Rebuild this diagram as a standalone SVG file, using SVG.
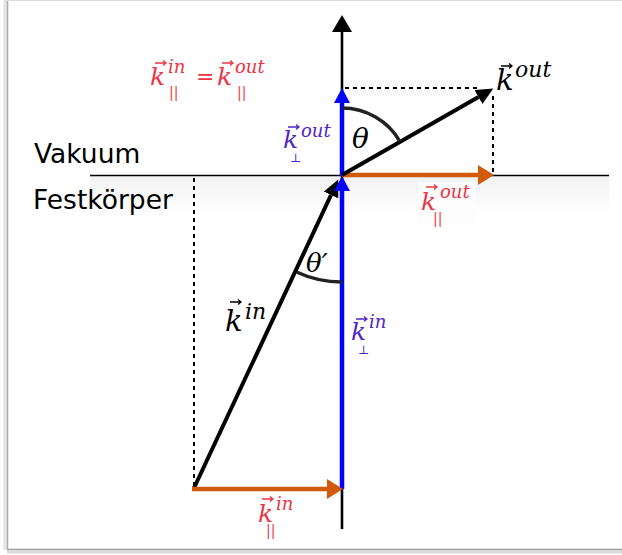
<svg xmlns="http://www.w3.org/2000/svg" width="622" height="555" viewBox="0 0 622 555">
<style>
.math{font-family:"DejaVu Serif","Liberation Serif",serif;font-style:italic}
.up{font-family:"DejaVu Serif","Liberation Serif",serif;font-style:normal}
.lbl{font-family:"DejaVu Sans","Verdana",sans-serif;font-size:26.5px;fill:#000}
.red{fill:#EE3344}
.blu{fill:#4F25C6}
.blk{fill:#000}
.dot{stroke:#000;stroke-width:2;stroke-dasharray:4 4;fill:none}
.va{fill:none;stroke-width:1.3}
</style>
<defs>
<linearGradient id="solid" x1="0" y1="0" x2="0" y2="1">
<stop offset="0" stop-color="#f2f2f2"/>
<stop offset="1" stop-color="#ffffff"/>
</linearGradient>
<marker id="mAxis" markerUnits="userSpaceOnUse" markerWidth="18" markerHeight="20" refX="0" refY="10" orient="auto"><path d="M0,0 L17,10 L0,20 Z" fill="#000"/></marker>
<marker id="mBlue" markerUnits="userSpaceOnUse" markerWidth="16" markerHeight="17" refX="0" refY="8" orient="auto"><path d="M0,0 L15,8 L0,16 Z" fill="#0000FF"/></marker>
<marker id="mOr" markerUnits="userSpaceOnUse" markerWidth="17" markerHeight="20" refX="0" refY="10" orient="auto"><path d="M0,0 L16,10 L0,20 Z" fill="#D25A0B"/></marker>
<marker id="mBlk" markerUnits="userSpaceOnUse" markerWidth="18" markerHeight="16" refX="0" refY="8" orient="auto"><path d="M0,0 L17,8 L0,16 Z" fill="#000"/></marker>
<path id="va" d="M0,0 H11 M8,-2.5 L11,0 L8,2.5"/>
</defs>

<g id="frame">
<line x1="5" y1="0" x2="5" y2="550" stroke="#e2e2e2" stroke-width="3"/>
<line x1="7.5" y1="0" x2="7.5" y2="549" stroke="#a8a8a8" stroke-width="1.5"/>
<line x1="7" y1="0.5" x2="622" y2="0.5" stroke="#dcdcdc" stroke-width="1"/>
<line x1="7" y1="549.5" x2="622" y2="549.5" stroke="#9a9a9a" stroke-width="1.5"/>
<line x1="7" y1="552" x2="622" y2="552" stroke="#d8d8d8" stroke-width="3"/>
</g>

<g id="solid-region">
<rect x="90" y="176" width="519" height="40" fill="url(#solid)"/>
<line x1="90" y1="175.5" x2="609" y2="175.5" stroke="#000" stroke-width="1.6"/>
</g>

<g id="connectors">
<line x1="342" y1="529" x2="342" y2="32" stroke="#000" stroke-width="2.6" marker-end="url(#mAxis)"/>
<line class="dot" x1="194" y1="178" x2="194" y2="487"/>
<line class="dot" x1="345" y1="88" x2="480" y2="88"/>
<line class="dot" x1="493" y1="96" x2="493" y2="174"/>
<line x1="194" y1="488" x2="331" y2="195" stroke="#000" stroke-width="4" marker-end="url(#mBlk)"/>
<line x1="342" y1="489" x2="342" y2="191" stroke="#0000FF" stroke-width="4.5" marker-end="url(#mBlue)"/>
<line x1="342" y1="176" x2="342" y2="103" stroke="#0000FF" stroke-width="4.5" marker-end="url(#mBlue)"/>
<line x1="342" y1="175" x2="478" y2="175" stroke="#D25A0B" stroke-width="4.5" marker-end="url(#mOr)"/>
<line x1="192" y1="489" x2="327" y2="489" stroke="#D25A0B" stroke-width="4.5" marker-end="url(#mOr)"/>
<line x1="342" y1="175" x2="478.5" y2="97" stroke="#000" stroke-width="4" marker-end="url(#mBlk)"/>
<path d="M342,108 A67,67 0 0 1 400,141.5" fill="none" stroke="#222" stroke-width="3.5"/>
<path d="M342,282 A107,107 0 0 1 296.5,272" fill="none" stroke="#222" stroke-width="3.5"/>
</g>

<g id="label-vakuum"><text class="lbl" x="34" y="163">Vakuum</text></g>
<g id="label-festkoerper"><text class="lbl" x="33" y="209">Festkörper</text></g>

<g id="label-equation" class="red">
<text class="math" x="150" y="85" font-size="25">k</text>
<text class="math" x="168" y="73" font-size="18">in</text>
<text class="up" x="169" y="97" font-size="14">||</text>
<text class="up" x="196" y="84" font-size="22">=</text>
<text class="math" x="217" y="85" font-size="25">k</text>
<text class="math" x="235" y="73" font-size="18">out</text>
<text class="up" x="237" y="97" font-size="14">||</text>
<use href="#va" x="155" y="63" stroke="#EE3344" class="va"/>
<use href="#va" x="222" y="63" stroke="#EE3344" class="va"/>
</g>

<g id="label-kout" class="blk">
<text class="math" x="496" y="90" font-size="29">k</text>
<text class="math" x="515" y="77" font-size="22">out</text>
<use href="#va" x="501" y="66" stroke="#000" class="va"/>
</g>

<g id="label-kin" class="blk">
<text class="math" x="225" y="331" font-size="29">k</text>
<text class="math" x="245" y="319" font-size="22">in</text>
<use href="#va" x="230" y="302" stroke="#000" class="va"/>
</g>

<g id="label-kperp-out" class="blu">
<text class="math" x="283" y="148" font-size="25">k</text>
<text class="math" x="301" y="137" font-size="18">out</text>
<text class="up" x="290" y="162" font-size="12">⊥</text>
<use href="#va" x="288" y="127" stroke="#4F25C6" class="va"/>
</g>

<g id="label-kperp-in" class="blu">
<text class="math" x="351" y="340" font-size="25">k</text>
<text class="math" x="369" y="328" font-size="18">in</text>
<text class="up" x="358" y="354" font-size="12">⊥</text>
<use href="#va" x="356" y="319" stroke="#4F25C6" class="va"/>
</g>

<g id="label-kpar-out" class="red">
<rect x="418" y="182" width="58" height="42" fill="#fdfdfd"/>
<text class="math" x="421" y="210" font-size="25">k</text>
<text class="math" x="440" y="198" font-size="18">out</text>
<text class="up" x="433" y="223" font-size="14">||</text>
<use href="#va" x="426" y="187" stroke="#EE3344" class="va"/>
</g>

<g id="label-kpar-in" class="red">
<text class="math" x="258" y="522" font-size="25">k</text>
<text class="math" x="276" y="510" font-size="18">in</text>
<text class="up" x="266" y="535" font-size="14">||</text>
<use href="#va" x="262" y="499" stroke="#EE3344" class="va"/>
</g>

<g id="label-theta"><text class="math" x="352" y="148" font-size="28">θ</text></g>
<g id="label-theta-prime"><text class="math" x="306" y="272" font-size="26">θ′</text></g>
</svg>
